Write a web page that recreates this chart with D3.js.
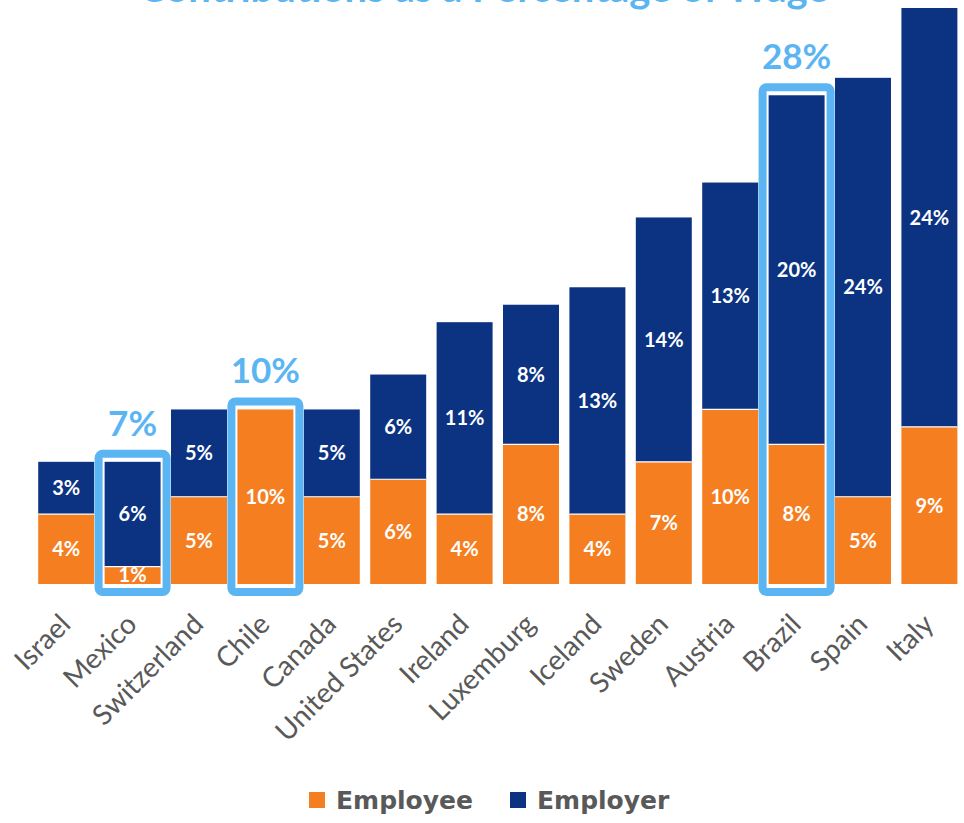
<!DOCTYPE html>
<html>
<head>
<meta charset="utf-8">
<script src="https://cdn.jsdelivr.net/npm/d3@7"></script>
<style>
  html, body { margin: 0; padding: 0; background: #ffffff; }
  svg { display: block; }
</style>
</head>
<body>
<svg id="chart" width="964" height="823"></svg>
<script>
// Contribution rates by country (percent of wage)
const countries = ["Israel", "Mexico", "Switzerland", "Chile", "Canada", "United States",
  "Ireland", "Luxemburg", "Iceland", "Sweden", "Austria", "Brazil", "Spain", "Italy"];
const employee = [4, 1, 5, 10, 5, 6, 4, 8, 4, 7, 10, 8, 5, 9];
const employer = [3, 6, 5, 0, 5, 6, 11, 8, 13, 14, 13, 20, 24, 24];
const seriesNames = ["Employee", "Employer"];
// Countries called out with their total rate
const highlighted = ["Mexico", "Chile", "Brazil"];
const titleText = "Contributions as a Percentage of Wage";

const colors = { Employee: "#F47E20", Employer: "#0B3382" };
const accent = "#5BB5F2";
const baseFont = "Lato, Carlito, Calibri, sans-serif";

const svg = d3.select("#chart");

const x = d3.scaleBand()
  .domain(countries)
  .range([33, 962.6])
  .paddingInner(0.157)
  .paddingOuter(0.0785);

const y = d3.scaleLinear().domain([0, 33]).range([584, 8]);

const rows = countries.map((c, i) => ({ country: c, Employee: employee[i], Employer: employer[i] }));
const stacked = d3.stack().keys(seriesNames)(rows);

// Title (runs off the top edge)
svg.append("text")
  .attr("x", 484)
  .attr("y", 1.5)
  .attr("text-anchor", "middle")
  .attr("font-family", baseFont)
  .attr("font-weight", 700)
  .attr("font-size", 40)
  .attr("fill", accent)
  .text(titleText);

// Stacked bars
const layers = svg.append("g").selectAll("g")
  .data(stacked)
  .join("g")
  .attr("fill", d => colors[d.key]);

layers.selectAll("rect")
  .data(d => d.map(v => ({ key: d.key, v })))
  .join("rect")
  .filter(d => d.v[1] - d.v[0] > 0)
  .attr("x", d => x(d.v.data.country))
  .attr("y", d => y(d.v[1]))
  .attr("width", x.bandwidth())
  .attr("height", d => y(d.v[0]) - y(d.v[1]));

// Thin white separators between segments
svg.append("g").selectAll("line")
  .data(rows.filter(r => r.Employer > 0))
  .join("line")
  .attr("x1", d => x(d.country))
  .attr("x2", d => x(d.country) + x.bandwidth())
  .attr("y1", d => y(d.Employee))
  .attr("y2", d => y(d.Employee))
  .attr("stroke", "#ffffff")
  .attr("stroke-width", 1.2);

// Segment value labels
const labelG = svg.append("g")
  .attr("font-family", baseFont)
  .attr("font-weight", 700)
  .attr("font-size", 20)
  .attr("fill", "#ffffff")
  .attr("text-anchor", "middle");

stacked.forEach(layer => {
  layer.forEach(v => {
    const val = v[1] - v[0];
    if (val <= 0) return;
    labelG.append("text")
      .attr("x", x(v.data.country) + x.bandwidth() / 2)
      .attr("y", (y(v[0]) + y(v[1])) / 2)
      .attr("dy", "0.36em")
      .text(val + "%");
  });
});

// Highlight boxes with totals
const hl = svg.append("g");
highlighted.forEach(c => {
  const i = countries.indexOf(c);
  const total = employee[i] + employer[i];
  const bx = x(c);
  hl.append("rect")
    .attr("x", bx - 6)
    .attr("y", y(total) - 8)
    .attr("width", x.bandwidth() + 12)
    .attr("height", y(0) + 8 - (y(total) - 8))
    .attr("rx", 4)
    .attr("fill", "none")
    .attr("stroke", accent)
    .attr("stroke-width", 8);
  hl.append("text")
    .attr("x", bx + x.bandwidth() / 2)
    .attr("y", y(total) - 26)
    .attr("text-anchor", "middle")
    .attr("font-family", baseFont)
    .attr("font-weight", 700)
    .attr("font-size", 35)
    .attr("fill", accent)
    .text(total + "%");
});

// Category axis labels, rotated
const xAxis = d3.axisBottom(x).tickSize(0).tickPadding(0);
const axisG = svg.append("g")
  .attr("transform", `translate(0,${y(0)})`)
  .call(xAxis);
axisG.select(".domain").remove();
axisG.selectAll(".tick text")
  .attr("font-family", baseFont)
  .attr("font-size", 28)
  .attr("fill", "#595959")
  .attr("text-anchor", "end")
  .attr("dy", null)
  .attr("y", 0)
  .attr("transform", "translate(6,42) rotate(-45)");

// Legend
const legend = svg.append("g")
  .attr("font-family", "DejaVu Sans, sans-serif")
  .attr("font-weight", 700)
  .attr("font-size", 25)
  .attr("fill", "#595959");
const legendX = [309, 510];
seriesNames.forEach((name, i) => {
  legend.append("rect")
    .attr("x", legendX[i])
    .attr("y", 792)
    .attr("width", 16)
    .attr("height", 16)
    .attr("fill", colors[name]);
  legend.append("text")
    .attr("x", legendX[i] + 27)
    .attr("y", 809)
    .text(name);
});
</script>
</body>
</html>
